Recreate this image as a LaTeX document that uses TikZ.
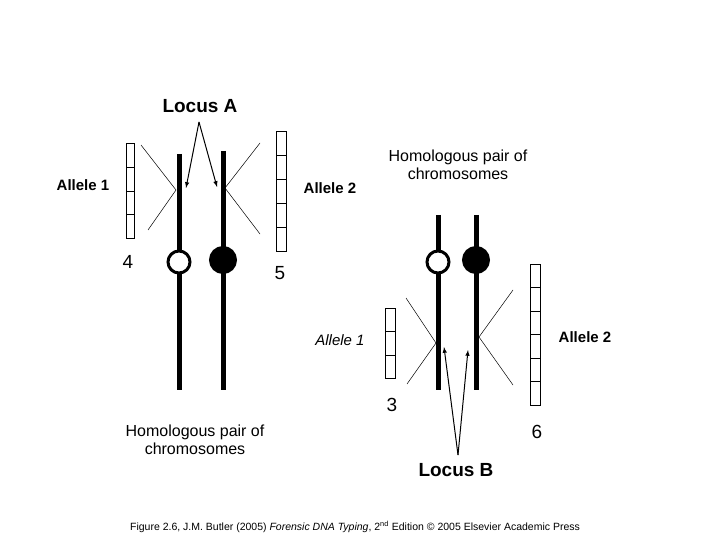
\documentclass[tikz,border=0pt]{standalone}
\usepackage{fontspec}
\setmainfont{Liberation Sans}
\begin{document}
\begin{tikzpicture}[x=1pt,y=-1pt,
 chrom/.style={line width=5pt},
 thin/.style={line width=0.5pt},
 cen/.style={line width=3pt,draw,circle,minimum size=22pt,inner sep=0},
 arr/.style={line width=1pt,-latex},
 lab/.style={font=\fontsize{16}{18}\selectfont},
 big/.style={font=\bfseries\fontsize{19}{22}\selectfont}]
\useasboundingbox (0,0) rectangle (720,540);
% left pair
\draw[chrom] (179,154) -- (179,390);
\draw[chrom] (223,151) -- (223,390);
\node[cen,fill=white] (c1) at (179,262) {};
\node[cen,fill=black,minimum size=25pt] (c2) at (223,260) {};
\node[big] (la) at (200,106) {Locus A};
\coordinate (la1) at (186,188); \coordinate (la2) at (217,187);
\draw[arr] (199,122) -- (la1); \draw[arr] (199,122) -- (la2);
\draw[thin] (126,143) rectangle (134,238);
\foreach \y in {167,191,214} \draw[thin] (126,\y) -- (134,\y);
\draw[thin] (141,145) -- (176,190) -- (148,230);
\draw[thin] (276,131) rectangle (286,251);
\foreach \y in {155,179,203,227} \draw[thin] (276,\y) -- (286,\y);
\draw[thin] (260,143) -- (225,188) -- (260,234);
\node[big,font=\bfseries\fontsize{15}{18}\selectfont] (a1) at (83,185) {Allele 1};
\node[big,font=\bfseries\fontsize{15}{18}\selectfont] (a2) at (330,188) {Allele 2};
\node[lab,font=\fontsize{19}{22}\selectfont] (n4) at (128,262) {4};
\node[lab,font=\fontsize{19}{22}\selectfont] (n5) at (280,273) {5};
\node[lab,align=center] (h1) at (458,165) {Homologous pair of\\chromosomes};
\node[lab,align=center] (h2) at (195,440) {Homologous pair of\\chromosomes};
% right pair
\draw[chrom] (438,215) -- (438,390);
\draw[chrom] (476,215) -- (476,390);
\node[cen,fill=white] (c3) at (438,262) {};
\node[cen,fill=black,minimum size=25pt] (c4) at (476,260) {};
\draw[thin] (385,308) rectangle (395,378);
\foreach \y in {331,355} \draw[thin] (385,\y) -- (395,\y);
\draw[thin] (406,298) -- (436,343) -- (407,384);
\draw[thin] (530,264) rectangle (540,405);
\foreach \y in {287.5,311,334.5,358,381.5} \draw[thin] (530,\y) -- (540,\y);
\draw[thin] (513,290) -- (479,337) -- (513,385);
\node[big] (lb) at (456,470) {Locus B};
\coordinate (lb1) at (444,347); \coordinate (lb2) at (468,350);
\draw[arr] (458,455) -- (lb1); \draw[arr] (458,455) -- (lb2);
\node[lab,font=\itshape\fontsize{15}{18}\selectfont] (b1) at (340,340) {Allele 1};
\node[big,font=\bfseries\fontsize{15}{18}\selectfont] (b2) at (585,337) {Allele 2};
\node[lab,font=\fontsize{19}{22}\selectfont] (n3) at (392,405) {3};
\node[lab,font=\fontsize{19}{22}\selectfont] (n6) at (537,432) {6};
\node[font=\fontsize{10.5}{12}\selectfont] (cap) at (355,527) {Figure 2.6, J.M. Butler (2005) \textit{Forensic DNA Typing}, 2\textsuperscript{nd} Edition © 2005 Elsevier Academic Press};
\end{tikzpicture}
\end{document}
